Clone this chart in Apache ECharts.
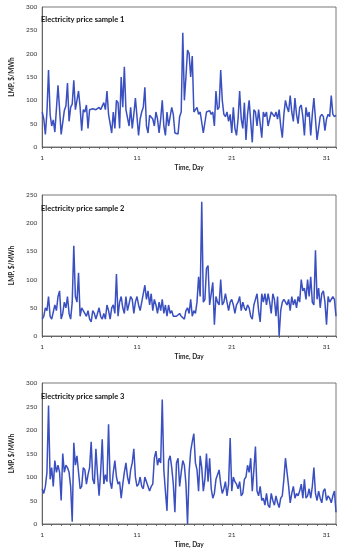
<!DOCTYPE html>
<html>
<head>
<meta charset="utf-8">
<script src="https://cdn.jsdelivr.net/npm/echarts@6/dist/echarts.min.js"></script>
<style>
html,body{margin:0;padding:0;background:#fff;}
#c{width:343px;height:550px;}
</style>
</head>
<body>
<div id="c"></div>
<script>
// Values sampled every 4 hours (6 per day), day 1 .. day 32
const titles = ['Electricity price sample 1', 'Electricity price sample 2', 'Electricity price sample 3'];
const yMaxes = [300, 250, 300];
const xTickLabels = [1, 11, 21, 31];
const yAxisName = 'LMP, $/MWh';
const xAxisName = 'Time, Day';

const sample1 = [
  75, 60, 27, 75, 165, 70,
  45, 58, 32, 82, 132, 80,
  27, 30, 78, 88, 137, 55,
  85, 92, 143, 80, 100, 120,
  85, 35, 80, 75, 90, 40,
  80, 78, 82, 85, 80, 82,
  85, 80, 78, 95, 80, 120,
  70, 72, 30, 75, 40, 100,
  95, 40, 150, 85, 172, 80,
  80, 45, 85, 40, 70, 105,
  65, 25, 60, 75, 85, 128,
  45, 30, 68, 70, 60, 45,
  75, 60, 30, 60, 100, 45,
  25, 75, 45, 65, 85, 70,
  30, 28, 28, 65, 75, 245,
  100, 150, 208, 200, 150, 195,
  75, 75, 85, 70, 75, 72,
  30, 28, 75, 75, 78, 70,
  75, 45, 120, 80, 85, 165,
  100, 70, 65, 75, 55, 70,
  30, 85, 40, 25, 60, 120,
  60, 40, 95, 15, 70, 100,
  55, 10, 80, 75, 45, 80,
  50, 20, 75, 65, 75, 45,
  60, 75, 70, 65, 75, 60,
  80, 45, 20, 70, 100, 85,
  75, 110, 75, 55, 105, 70,
  50, 85, 90, 65, 25, 85,
  65, 75, 25, 70, 105, 60,
  15, 40, 65, 70, 65, 35,
  60, 70, 65, 110, 70, 65,
  68
];

const sample2 = [
  30, 35, 50, 45, 70, 35,
  30, 30, 55, 45, 70, 80,
  30, 40, 60, 50, 70, 40,
  30, 60, 160, 70, 60, 112,
  35, 50, 45, 45, 35, 45,
  30, 25, 45, 40, 30, 40,
  50, 35, 30, 40, 30, 55,
  45, 30, 50, 55, 40, 110,
  35, 60, 70, 50, 40, 70,
  45, 45, 70, 65, 40, 60,
  70, 55, 45, 60, 75, 90,
  65, 80, 55, 75, 45, 65,
  55, 40, 60, 45, 65, 40,
  55, 35, 55, 40, 45, 35,
  35, 35, 35, 40, 35, 35,
  30, 45, 50, 40, 65, 35,
  45, 40, 60, 105, 70, 238,
  60, 65, 120, 125, 55, 75,
  95, 20, 70, 60, 55, 100,
  55, 60, 75, 60, 45, 60,
  65, 55, 40, 55, 60, 70,
  45, 60, 50, 45, 55, 50,
  35, 30, 55, 65, 75, 45,
  25, 75, 60, 75, 55, 75,
  60, 40, 75, 65, 35, 70,
  0, 45, 60, 65, 60, 55,
  65, 45, 70, 55, 65, 50,
  70, 60, 100, 80, 85, 65,
  100, 70, 105, 60, 55, 152,
  65, 85, 50, 75, 80, 60,
  20, 70, 60, 65, 70, 65,
  35
];

const sample3 = [
  75, 65, 80, 110, 252, 95,
  120, 80, 135, 110, 125, 110,
  50, 150, 110, 125, 120, 110,
  80, 5, 173, 125, 145, 110,
  75, 80, 120, 115, 85, 105,
  120, 175, 95, 85, 160, 105,
  60, 110, 180, 85, 105, 90,
  212, 90, 75, 110, 135, 100,
  85, 90, 55, 85, 110, 130,
  100, 85, 115, 130, 160, 100,
  80, 85, 100, 80, 75, 100,
  90, 80, 70, 80, 85, 140,
  155, 125, 140, 130, 265, 115,
  70, 28, 135, 145, 120, 85,
  25, 130, 140, 80, 110, 135,
  125, 85, 0, 110, 155, 175,
  192, 130, 115, 70, 145, 120,
  70, 95, 150, 90, 140, 75,
  55, 65, 95, 105, 115, 85,
  65, 75, 90, 60, 85, 183,
  70, 100, 90, 85, 75, 90,
  60, 65, 95, 100, 125, 110,
  140, 70, 115, 165, 70, 60,
  80, 50, 55, 40, 65, 40,
  35, 65, 50, 40, 60, 45,
  35, 55, 60, 95, 140, 110,
  80, 45, 65, 80, 55, 65,
  60, 70, 85, 55, 95, 55,
  60, 75, 55, 80, 120, 65,
  50, 70, 55, 45, 70, 75,
  50, 60, 55, 45, 60, 70,
  25
];

const samples = [sample1, sample2, sample3];
const pointsPerDay = 6;

const grids = [
  {left: 31, right: 7, top: 7, bottom: 403},
  {left: 31, right: 7, top: 195, bottom: 214},
  {left: 31, right: 7, top: 383, bottom: 26}
];
const titleTops = [11, 200, 388];

const font = 'Lato, "Open Sans", sans-serif';
const lineColor = '#3a4fc0';

const option = {
  animation: false,
  backgroundColor: '#fff',
  title: titles.map((t, i) => ({
    text: t, left: 36, top: titleTops[i],
    textStyle: {fontFamily: font, fontSize: 7.5, fontWeight: 'bold', color: '#111'}
  })),
  grid: grids.map(g => Object.assign({show: true, borderColor: '#555', borderWidth: 0.8, backgroundColor: 'transparent'}, g)),
  xAxis: grids.map((g, i) => ({
    type: 'value', gridIndex: i, min: 1, max: 32, interval: 1,
    name: xAxisName, nameLocation: 'middle', nameGap: 17,
    nameTextStyle: {fontFamily: font, fontSize: 6.5, fontWeight: 'bold', color: '#222'},
    axisLine: {lineStyle: {color: '#555', width: 0.8}},
    axisTick: {show: true, length: 2, lineStyle: {color: '#555', width: 0.8}},
    splitLine: {show: false},
    axisLabel: {
      fontFamily: font, fontSize: 6.5, color: '#333', margin: 7,
      formatter: v => (xTickLabels.indexOf(v) >= 0 ? String(v) : '')
    }
  })),
  yAxis: grids.map((g, i) => ({
    type: 'value', gridIndex: i, min: 0, max: yMaxes[i], interval: 50,
    name: yAxisName, nameLocation: 'middle', nameGap: 19,
    nameTextStyle: {fontFamily: font, fontSize: 6.5, fontWeight: 'bold', color: '#222'},
    axisLine: {show: true, lineStyle: {color: '#555', width: 0.8}},
    axisTick: {show: false},
    splitLine: {show: false},
    axisLabel: {fontFamily: font, fontSize: 6.5, color: '#333', margin: 5}
  })),
  series: samples.map((s, i) => ({
    type: 'line', xAxisIndex: i, yAxisIndex: i,
    data: s.map((v, k) => [1 + k / pointsPerDay, v]),
    showSymbol: false, symbol: 'none',
    lineStyle: {color: lineColor, width: 1.5},
    itemStyle: {color: lineColor}
  }))
};

const chart = echarts.init(document.getElementById('c'), null, {renderer: 'canvas'});
chart.setOption(option);
</script>
</body>
</html>
